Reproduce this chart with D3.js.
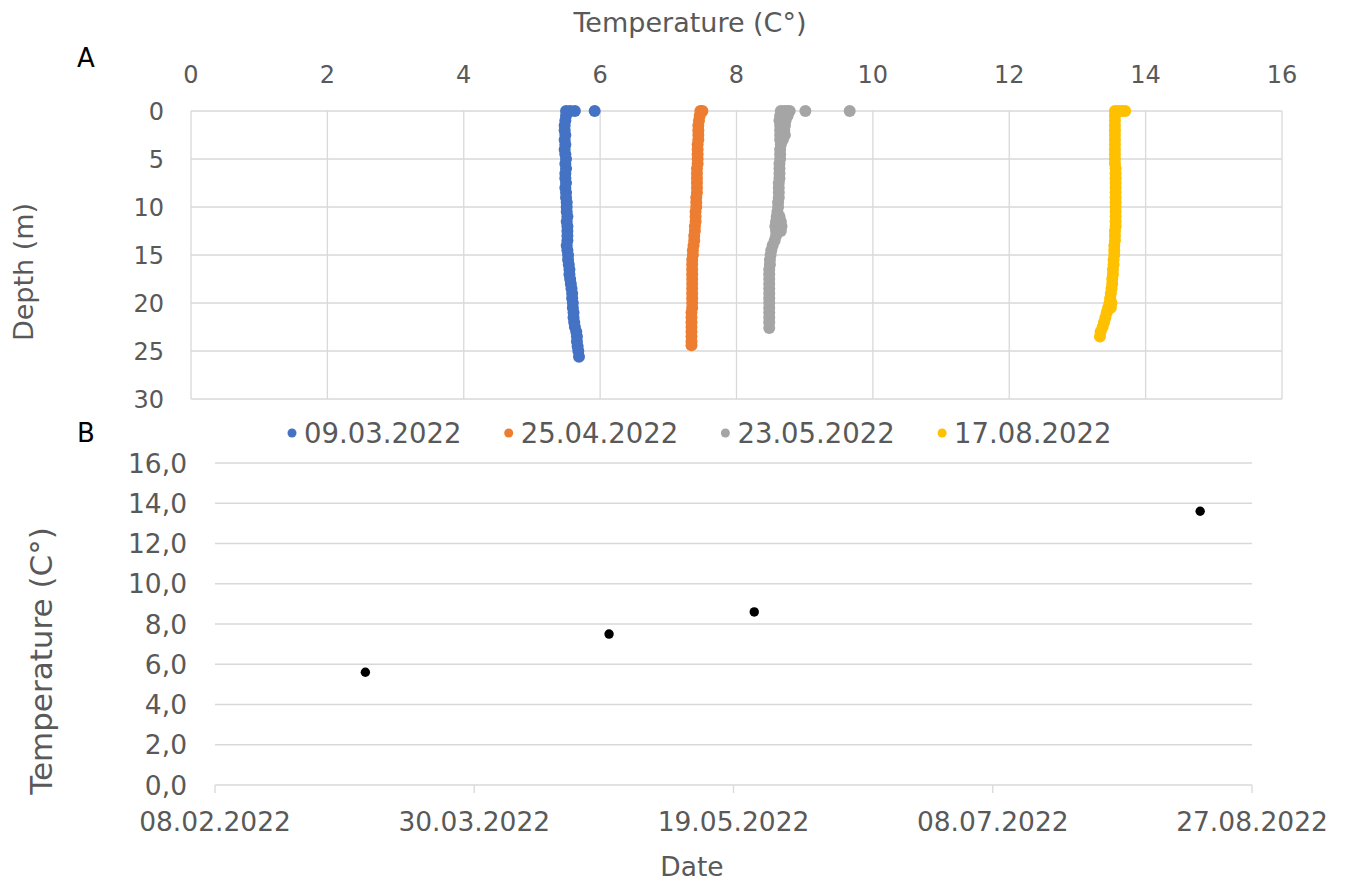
<!DOCTYPE html>
<html>
<head>
<meta charset="utf-8">
<script src="https://d3js.org/d3.v7.min.js"></script>
<style>
  body { margin: 0; background: #fff; }
  text { font-family: "DejaVu Sans", Verdana, sans-serif; fill: #595959; }
</style>
</head>
<body>
<svg id="chart" width="1345" height="883"></svg>
<script>
// ---- data ----
var profileDates = ["09.03.2022", "25.04.2022", "23.05.2022", "17.08.2022"];
var profileColors = ["#4472C4", "#ED7D31", "#A5A5A5", "#FFC000"];

// [depth (m), temperature (C)]
var profile0903 = [
  [0,5.50],[0,5.56],[0,5.63],[0,5.92],
  [0.5,5.50],[1,5.49],[1.5,5.48],[2,5.48],[2.5,5.49],[3,5.48],[3.5,5.49],[4,5.48],
  [4.5,5.49],[5,5.50],[5.5,5.49],[6,5.50],[6.5,5.49],[7,5.49],[7.5,5.50],[8,5.49],
  [8.5,5.50],[9,5.50],[9.5,5.51],[10,5.51],[10.5,5.51],[11,5.52],[11.5,5.51],[12,5.52],
  [12.5,5.52],[13,5.52],[13.5,5.52],[14,5.51],[14.5,5.52],[15,5.53],[15.5,5.53],[16,5.54],
  [16.5,5.55],[17,5.55],[17.5,5.56],[18,5.57],[18.5,5.58],[19,5.59],[19.5,5.59],[20,5.60],
  [20.5,5.60],[21,5.61],[21.5,5.61],[22,5.62],[22.5,5.63],[23,5.65],[23.5,5.66],[24,5.66],
  [24.5,5.67],[25,5.68],[25.6,5.69]
];
var profile2504 = [
  [0,7.47],[0,7.50],
  [0.5,7.46],[1,7.45],[1.5,7.44],[2,7.44],[2.5,7.44],[3,7.44],[3.5,7.43],[4,7.43],
  [4.5,7.43],[5,7.43],[5.5,7.43],[6,7.42],[6.5,7.42],[7,7.42],[7.5,7.42],[8,7.42],
  [8.5,7.42],[9,7.41],[9.5,7.41],[10,7.41],[10.5,7.40],[11,7.40],[11.5,7.40],[12,7.39],
  [12.5,7.39],[13,7.38],[13.5,7.38],[14,7.37],[14.5,7.36],[15,7.36],[15.5,7.35],[16,7.35],
  [16.5,7.35],[17,7.35],[17.5,7.35],[18,7.35],[18.5,7.35],[19,7.35],[19.5,7.35],[20,7.35],
  [20.5,7.35],[21,7.34],[21.5,7.34],[22,7.34],[22.5,7.34],[23,7.34],[23.5,7.34],[24,7.34],
  [24.4,7.34]
];
var profile2305 = [
  [0,8.65],[0,8.70],[0,8.74],[0,8.78],[0,9.01],[0,9.66],
  [0.5,8.64],[0.5,8.75],[1,8.63],[1,8.72],[1.5,8.64],[1.5,8.71],[2,8.64],[2,8.70],
  [2.5,8.64],[2.5,8.71],[3,8.64],[3,8.68],[3.5,8.65],[4,8.64],[4.5,8.64],[5,8.64],
  [5.5,8.63],[6,8.63],[6.5,8.63],[7,8.63],[7.5,8.62],[8,8.62],[8.5,8.62],[9,8.62],
  [9.5,8.61],[10,8.61],[10.5,8.60],[11,8.59],[11,8.63],[11.5,8.58],[11.5,8.65],
  [12,8.57],[12,8.66],[12.5,8.58],[12.5,8.65],[13,8.58],[13.5,8.56],[14,8.53],[14.5,8.51],
  [15,8.50],[15.5,8.49],[16,8.49],[16.5,8.48],[17,8.48],[17.5,8.48],[18,8.48],[18.5,8.48],
  [19,8.48],[19.5,8.48],[20,8.48],[20.5,8.48],[21,8.48],[21.5,8.48],[22,8.48],[22.6,8.48]
];
var profile1708 = [
  [0,13.55],[0,13.60],[0,13.65],[0,13.70],
  [0.5,13.55],[1,13.55],[1.5,13.55],[2,13.55],[2.5,13.55],[3,13.55],[3.5,13.55],[4,13.55],
  [4.5,13.55],[5,13.55],[5.5,13.55],[6,13.56],[6.5,13.56],[7,13.56],[7.5,13.56],[8,13.56],
  [8.5,13.56],[9,13.56],[9.5,13.56],[10,13.56],[10.5,13.56],[11,13.56],[11.5,13.56],[12,13.56],
  [12.5,13.55],[13,13.55],[13.5,13.55],[14,13.54],[14.5,13.54],[15,13.54],[15.5,13.53],[16,13.53],
  [16.5,13.52],[17,13.52],[17.5,13.51],[18,13.51],[18.5,13.50],[19,13.49],[19.5,13.48],[20,13.47],
  [20,13.50],[20.5,13.45],[20.5,13.49],[21,13.43],[21.5,13.41],[22,13.39],[22.5,13.37],
  [23,13.34],[23.5,13.33]
];
var profiles = [profile0903, profile2504, profile2305, profile1708];

// mean temperature per sampling date (panel B)
var meanDates = ["09.03.2022", "25.04.2022", "23.05.2022", "17.08.2022"];
var meanTemps = [5.6, 7.5, 8.6, 13.6];

var tempTicksA = [0, 2, 4, 6, 8, 10, 12, 14, 16];
var depthTicks = [0, 5, 10, 15, 20, 25, 30];
var tempTicksB = [0, 2, 4, 6, 8, 10, 12, 14, 16];
var dateTicks = ["08.02.2022", "30.03.2022", "19.05.2022", "08.07.2022", "27.08.2022"];

// ---- drawing ----
var svg = d3.select("#chart");
var grid = "#D9D9D9";
var parse = d3.timeParse("%d.%m.%Y");

// panel A
var xA = d3.scaleLinear().domain([0, 16]).range([191, 1282]);
var yA = d3.scaleLinear().domain([0, 30]).range([111, 399]);

var gA = svg.append("g");
gA.selectAll("line.v").data(tempTicksA).enter().append("line")
  .attr("x1", d => xA(d)).attr("x2", d => xA(d))
  .attr("y1", yA(0)).attr("y2", yA(30))
  .attr("stroke", grid).attr("stroke-width", 1.3);
gA.selectAll("line.h").data(depthTicks).enter().append("line")
  .attr("x1", xA(0)).attr("x2", xA(16))
  .attr("y1", d => yA(d)).attr("y2", d => yA(d))
  .attr("stroke", grid).attr("stroke-width", 1.3);

gA.selectAll("text.xt").data(tempTicksA).enter().append("text")
  .attr("x", d => xA(d)).attr("y", 83)
  .attr("text-anchor", "middle").style("font-size", "24px")
  .text(d => d);
gA.selectAll("text.yt").data(depthTicks).enter().append("text")
  .attr("x", 164).attr("y", d => yA(d))
  .attr("text-anchor", "end").attr("dy", "0.36em").style("font-size", "24px")
  .text(d => d);

svg.append("text").attr("x", 690).attr("y", 32)
  .attr("text-anchor", "middle").style("font-size", "27px")
  .text("Temperature (C°)");
svg.append("text").attr("transform", "translate(33,272) rotate(-90)")
  .attr("text-anchor", "middle").style("font-size", "27px")
  .text("Depth (m)");

profiles.forEach(function(p, i) {
  gA.append("g").selectAll("circle").data(p).enter().append("circle")
    .attr("cx", d => xA(d[1])).attr("cy", d => yA(d[0]))
    .attr("r", 6).attr("fill", profileColors[i]);
});

// legend
var leg = svg.append("g");
profileDates.forEach(function(d, i) {
  var x0 = 292 + i * 216.7;
  leg.append("circle").attr("cx", x0).attr("cy", 433).attr("r", 4.5).attr("fill", profileColors[i]);
  leg.append("text").attr("x", x0 + 12).attr("y", 433).attr("dy", "0.36em")
    .style("font-size", "27.5px").text(d);
});

// panel labels
svg.append("text").attr("x", 77).attr("y", 67).style("font-size", "26px").style("fill", "#000").text("A");
svg.append("text").attr("x", 77).attr("y", 442).style("font-size", "26px").style("fill", "#000").text("B");

// panel B
var xB = d3.scaleTime().domain([parse("08.02.2022"), parse("27.08.2022")]).range([215, 1252]);
var yB = d3.scaleLinear().domain([0, 16]).range([785, 463]);

var gB = svg.append("g");
gB.selectAll("line.h").data(tempTicksB).enter().append("line")
  .attr("x1", xB.range()[0]).attr("x2", xB.range()[1])
  .attr("y1", d => yB(d)).attr("y2", d => yB(d))
  .attr("stroke", grid).attr("stroke-width", 1.3);
gB.selectAll("line.t").data(dateTicks).enter().append("line")
  .attr("x1", d => xB(parse(d))).attr("x2", d => xB(parse(d)))
  .attr("y1", yB(0)).attr("y2", yB(0) + 8)
  .attr("stroke", grid).attr("stroke-width", 1.3);

gB.selectAll("text.yt").data(tempTicksB).enter().append("text")
  .attr("x", 187).attr("y", d => yB(d)).attr("dy", "0.36em")
  .attr("text-anchor", "end").style("font-size", "26.5px")
  .text(d => d3.format(".1f")(d).replace(".", ","));
gB.selectAll("text.xt").data(dateTicks).enter().append("text")
  .attr("x", d => xB(parse(d))).attr("y", 831)
  .attr("text-anchor", "middle").style("font-size", "26.5px")
  .text(d => d);

gB.selectAll("circle").data(meanDates).enter().append("circle")
  .attr("cx", d => xB(parse(d))).attr("cy", (d, i) => yB(meanTemps[i]))
  .attr("r", 4.7).attr("fill", "#000");

svg.append("text").attr("transform", "translate(52,661) rotate(-90)")
  .attr("text-anchor", "middle").style("font-size", "31px")
  .text("Temperature (C°)");
svg.append("text").attr("x", 692).attr("y", 876)
  .attr("text-anchor", "middle").style("font-size", "26.5px")
  .text("Date");
</script>
</body>
</html>
